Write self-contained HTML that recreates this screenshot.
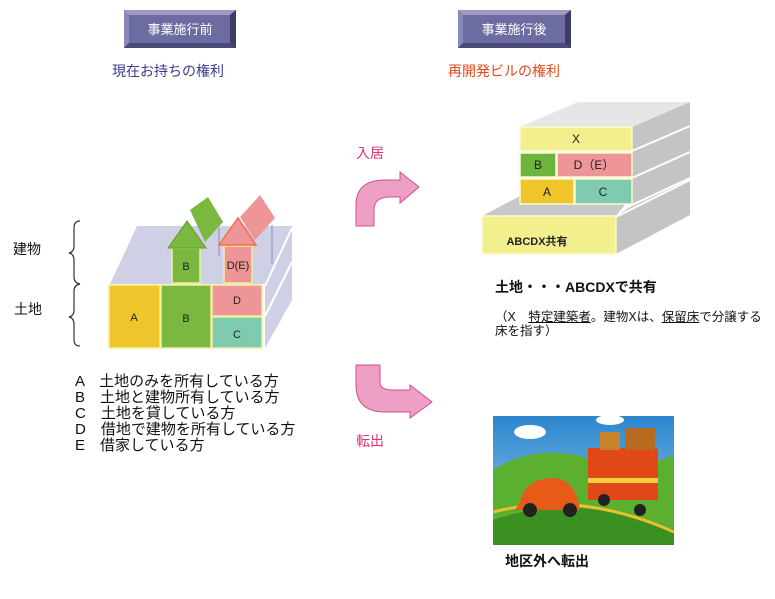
<!DOCTYPE html>
<html><head><meta charset="utf-8"><style>
body{margin:0;width:775px;height:599px;background:#fff;position:relative;overflow:hidden;font-family:"Liberation Sans","Noto Sans CJK JP",sans-serif}
.t{position:absolute;white-space:nowrap}
</style></head><body>
<svg width="775" height="599" style="position:absolute;left:0;top:0">
<g>
<rect x="124" y="10" width="112" height="38" fill="#5a5a8e"/>
<polygon points="124,10 236,10 230,15 129,15" fill="#9a9ac4"/>
<polygon points="124,10 129,15 129,43 124,48" fill="#8a8ab8"/>
<polygon points="236,10 236,48 230,43 230,15" fill="#3c3c66"/>
<polygon points="124,48 236,48 230,43 129,43" fill="#4a4a78"/>
<rect x="129" y="15" width="101" height="28" fill="#6c6ca2"/>
<rect x="458" y="10" width="113" height="38" fill="#5a5a8e"/>
<polygon points="458,10 571,10 565,15 463,15" fill="#9a9ac4"/>
<polygon points="458,10 463,15 463,43 458,48" fill="#8a8ab8"/>
<polygon points="571,10 571,48 565,43 565,15" fill="#3c3c66"/>
<polygon points="458,48 571,48 565,43 463,43" fill="#4a4a78"/>
<rect x="463" y="15" width="102" height="28" fill="#6c6ca2"/>
</g>
<text x="180" y="34" font-size="13" fill="#fff" text-anchor="middle" font-family="Liberation Sans,Noto Sans CJK JP,sans-serif">事業施行前</text>
<text x="514" y="34" font-size="13" fill="#fff" text-anchor="middle" font-family="Liberation Sans,Noto Sans CJK JP,sans-serif">事業施行後</text>

<polygon points="137,226 292,226 265,284 110,284" fill="#cfcfe6"/>
<polygon points="265,284 292,226 292,300 265,348" fill="#cfcfe6"/>
<line x1="265" y1="316" x2="292" y2="262" stroke="#fff" stroke-width="2"/>
<line x1="265" y1="286" x2="292" y2="228" stroke="#fff" stroke-width="2"/>
<line x1="219" y1="228" x2="219" y2="256" stroke="#8888bb" stroke-width="1"/>
<line x1="272" y1="225" x2="272" y2="264" stroke="#8888bb" stroke-width="1"/>
<g stroke="#f2eea0" stroke-width="1.5">
<rect x="109" y="285" width="51" height="63" fill="#eec52a"/>
<rect x="161" y="285" width="50" height="63" fill="#7ab840"/>
<rect x="212" y="285" width="50" height="31" fill="#ee9598"/>
<rect x="212" y="317" width="50" height="31" fill="#7ecbb0"/>
<rect x="172" y="248" width="28" height="35" fill="#7ab840"/>
<rect x="224" y="246" width="28" height="37" fill="#ee9598"/>
</g>
<polygon points="168,248 187,221 206,248" fill="#7ab840" stroke="#5aa030"/>
<polygon points="190,210 208,197 223,222 205,242" fill="#7ab840"/>
<polygon points="219,245 238,218 256,245" fill="#ee9598" stroke="#f07040" stroke-width="1.5"/>
<polygon points="240,217 260,195 275,218 255,240" fill="#ee9598"/>
<g font-size="11" fill="#222" text-anchor="middle" font-family="Liberation Sans,sans-serif">
<text x="134" y="321">A</text><text x="186" y="322">B</text><text x="237" y="304">D</text><text x="237" y="338">C</text>
<text x="186" y="270">B</text><text x="238" y="269">D(E)</text>
</g>
<path d="M80,221 Q74,221 74,228 L74,246 Q74,252 69,253 Q74,254 74,260 L74,277 Q74,283 80,284 Q74,285 74,291 L74,310 Q74,316 69,317 Q74,318 74,324 L74,340 Q74,346 80,346" fill="none" stroke="#333" stroke-width="1.2"/>

<polygon points="482,216 520,196 632,196 616,216" fill="#c8c8c8"/>
<polygon points="520,127 578,102 690,102 632,127" fill="#e6e6e6"/>
<polygon points="632,127 690,102 690,215 616,254 616,216 632,206" fill="#c4c4c4"/>
<g stroke="#fff" stroke-width="2"><line x1="632" y1="151" x2="690" y2="126"/><line x1="632" y1="178" x2="690" y2="152"/><line x1="632" y1="205" x2="690" y2="178"/><line x1="616" y1="217" x2="690" y2="180"/></g>
<g stroke="#fafad0" stroke-width="1.5">
<rect x="520" y="127" width="112" height="24" fill="#f2f08c"/>
<rect x="520" y="153" width="36" height="24" fill="#6cb43c"/>
<rect x="557" y="153" width="75" height="24" fill="#ee9598"/>
<rect x="520" y="179" width="54" height="25" fill="#eec52a"/>
<rect x="575" y="179" width="57" height="25" fill="#7ecbb0"/>
<rect x="482" y="216" width="134" height="38" fill="#f2f08c"/>
</g>
<g font-size="12" fill="#222" text-anchor="middle" font-family="Liberation Sans,Noto Sans CJK JP,sans-serif">
<text x="576" y="143">X</text><text x="538" y="169">B</text><text x="594" y="169">D（E）</text>
<text x="547" y="196">A</text><text x="603" y="196">C</text>
<text x="537" y="245" font-size="11" font-weight="bold">ABCDX共有</text>
</g>

<path d="M356,226 L356,205 Q356,180 385,180 L400,180 L400,172 L419,187 L400,203 L400,197 L390,197 Q374,197 374,210 L374,226 Z" fill="#eea0c4" stroke="#d0508e" stroke-width="1"/>
<path d="M356,365 L380,365 L380,382 Q380,390 392,390 L410,390 L410,385 L432,402 L410,418 L410,412 L385,412 Q356,412 356,385 Z" fill="#eea0c4" stroke="#d0508e" stroke-width="1"/>

<defs><linearGradient id="sky" x1="0" y1="0" x2="0" y2="1"><stop offset="0" stop-color="#2c86cc"/><stop offset="1" stop-color="#9cd0ee"/></linearGradient></defs>
<rect x="493" y="416" width="181" height="129" fill="url(#sky)"/>
<path d="M493,470 Q540,440 600,462 Q640,470 674,455 L674,545 L493,545 Z" fill="#5cb030"/>
<path d="M493,520 Q580,490 674,530 L674,545 L493,545 Z" fill="#3a9020"/>
<path d="M493,512 Q580,490 674,532" fill="none" stroke="#e8c030" stroke-width="3"/>
<ellipse cx="530" cy="432" rx="16" ry="7" fill="#fff"/><ellipse cx="610" cy="420" rx="14" ry="5" fill="#fff"/>
<rect x="588" y="448" width="70" height="52" fill="#e04818"/><rect x="588" y="478" width="70" height="5" fill="#f0d040"/>
<rect x="600" y="432" width="20" height="18" fill="#c8822c"/><rect x="625" y="428" width="30" height="22" fill="#b86a20"/>
<path d="M520,502 Q525,478 555,478 Q572,480 578,500 L580,510 L515,510 Z" fill="#e85a18"/>
<circle cx="530" cy="510" r="7" fill="#222"/><circle cx="570" cy="510" r="7" fill="#222"/><circle cx="604" cy="500" r="6" fill="#222"/><circle cx="640" cy="510" r="6" fill="#222"/>
</svg>

<div class="t" style="left:112px;top:61px;font-size:14px;color:#3a3a8a">現在お持ちの権利</div>
<div class="t" style="left:448px;top:61px;font-size:14px;color:#e04a1a">再開発ビルの権利</div>
<div class="t" style="left:356px;top:143px;font-size:14px;color:#e0307a">入居</div>
<div class="t" style="left:356px;top:431px;font-size:14px;color:#e0307a">転出</div>
<div class="t" style="left:13px;top:239px;font-size:14px;color:#111">建物</div>
<div class="t" style="left:14px;top:299px;font-size:14px;color:#111">土地</div>
<div class="t" style="left:75px;top:374px;font-size:15px;line-height:16px;color:#111">A　土地のみを所有している方<br>B　土地と建物所有している方<br>C　土地を貸している方<br>D　借地で建物を所有している方<br>E　借家している方</div>
<div class="t" style="left:495px;top:277px;font-size:14px;font-weight:bold;color:#111">土地・・・ABCDXで共有</div>
<div class="t" style="left:495px;top:310px;font-size:12.5px;line-height:14px;color:#111">（X　<u>特定建築者</u>。建物Xは、<u>保留床</u>で分譲する<br>床を指す）</div>
<div class="t" style="left:505px;top:551px;font-size:14px;font-weight:bold;color:#111">地区外へ転出</div>
</body></html>
